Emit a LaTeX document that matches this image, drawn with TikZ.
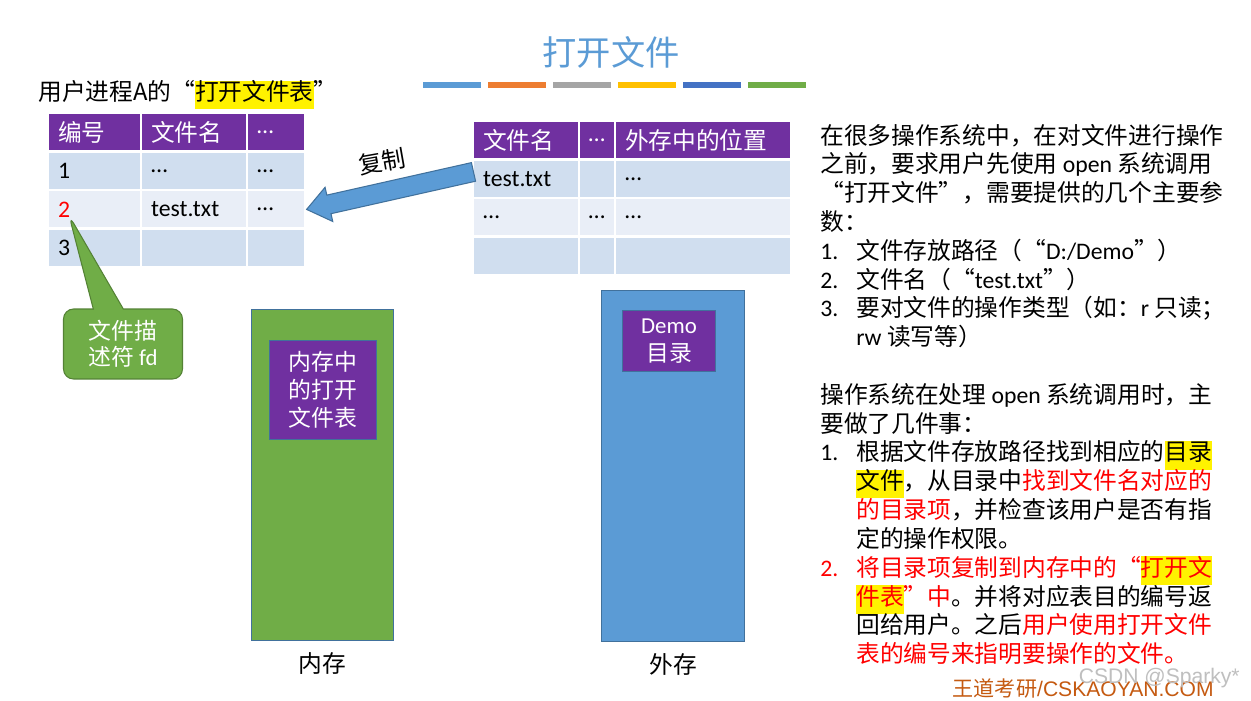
\documentclass[tikz,border=0pt]{standalone}
\usepackage{fontspec}
\setmainfont{Noto Sans CJK SC}
\newfontfamily\lat{Carlito}
\newfontfamily\arl{Liberation Sans}
\usetikzlibrary{positioning,calc,shapes.arrows,shapes.callouts}

\definecolor{titleblue}{RGB}{91,155,213}
\definecolor{barorange}{RGB}{237,125,49}
\definecolor{bargray}{RGB}{165,165,165}
\definecolor{bargold}{RGB}{255,192,0}
\definecolor{bardeep}{RGB}{68,114,196}
\definecolor{bargreen}{RGB}{112,173,71}
\definecolor{hdpurple}{RGB}{112,48,160}
\definecolor{rowdark}{RGB}{208,222,239}
\definecolor{rowlight}{RGB}{233,238,247}
\definecolor{edgeblue}{RGB}{65,113,156}
\definecolor{fdedge}{RGB}{84,130,53}
\definecolor{brandred}{RGB}{197,90,17}

\newcommand{\no}[1]{\makebox[0.72cm][l]{\lat #1}}
\newcommand{\hlt}[1]{{\setlength{\fboxsep}{0pt}\colorbox{yellow}{\strut #1}}}
\newcommand{\rtxt}[1]{\textcolor{red}{#1}}

\begin{document}
\begin{tikzpicture}[x=0.02cm, y=-0.02cm,
  every node/.style={inner sep=0pt, font=\fontsize{13.5pt}{16.4pt}\selectfont},
  cell/.style={draw=white, line width=1.2pt, anchor=north west, inner xsep=0.2cm, minimum height=0.77cm, align=left},
  hd/.style={cell, fill=hdpurple, text=white},
  rowA/.style={cell, fill=rowdark},
  rowB/.style={cell, fill=rowlight},
  block/.style={draw=edgeblue, line width=0.6pt, anchor=north west},
  tag/.style={block, fill=hdpurple, text=white, align=center, font=\fontsize{13pt}{15.8pt}\selectfont}]
	\path[fill=white, use as bounding box] (0,0) rectangle (1251,700);

	% title and colour bars
	\node[text=titleblue, font=\fontsize{19.5pt}{22pt}\selectfont] (title) at (611,52) {打开文件};
	\foreach \cl [count=\i] in {titleblue, barorange, bargray, bargold, bardeep, bargreen}
		\fill[\cl] (358+65*\i,82) rectangle +(58,6);

	% open-file table of process A
	\node[anchor=west] (ownlbl) at (38,95) {用户进程A的“\hlt{打开文件表}”};
	\foreach \cx/\cw/\ch/\ca/\cb/\cc [count=\i] in {47/93/编号/1/{\color{red}2}/3, 140/106/文件名/{…}/test.txt/{}, 246/58/{\lat …}/{…}/{…}/{}} {
		\pgfmathsetmacro\tw{\cw*0.02-0.4}
		\node[hd, text width=\tw cm] (L0\i) at (\cx,112) {\ch};
		\node[rowA, text width=\tw cm] (L1\i) at (\cx,150.5) {\lat\ca};
		\node[rowB, text width=\tw cm] (L2\i) at (\cx,189) {\lat\cb};
		\node[rowA, text width=\tw cm] (L3\i) at (\cx,227.5) {\lat\cc};
	}

	% directory table
	\foreach \cx/\cw/\ch/\ca/\cb/\cc [count=\i] in {472/105.5/文件名/test.txt/{…}/{}, 577.5/36.5/{\lat …}/{}/{…}/{}, 614/176/外存中的位置/{…}/{…}/{}} {
		\pgfmathsetmacro\tw{\cw*0.02-0.4}
		\node[hd, text width=\tw cm] (R0\i) at (\cx,120) {\ch};
		\node[rowA, text width=\tw cm] (R1\i) at (\cx,158.5) {\lat\ca};
		\node[rowB, text width=\tw cm] (R2\i) at (\cx,197) {\lat\cb};
		\node[rowA, text width=\tw cm] (R3\i) at (\cx,235.5) {\lat\cc};
	}

	% copy arrow
	\coordinate (cptail) at ($(R11.west)+(2,-7)$);
	\coordinate (cphead) at ($(L23.east)+(1,0)$);
	\path let \p1=(cptail), \p2=(cphead), \n1={atan2(\y2-\y1,\x2-\x1)}, \n2={veclen(\x2-\x1,\y2-\y1)} in
		node[single arrow, draw=edgeblue, fill=titleblue, line width=0.6pt, minimum height=\n2, inner xsep=0pt, inner ysep=0.18cm,
			single arrow head extend=0.16cm, single arrow tip angle=75, rotate=\n1, anchor=tail] (copy) at (cptail) {};
	\node[rotate=10] (cplbl) at (382,162) {复制};

	% file descriptor callout
	\coordinate (fdtip) at ($(L21.west)+(22,6)$);
	\node[rectangle callout, rounded corners=0.2cm, fill=bargreen, draw=fdedge, line width=0.6pt, text=white,
		minimum width=2.38cm, minimum height=1.4cm, align=center, callout absolute pointer={(fdtip)}, callout pointer width=0.6cm,
		font=\fontsize{13pt}{14.7pt}\selectfont] (fd) at (123,344) {文件描\\述符 {\lat fd}};

	% memory and disk
	\node[block, fill=bargreen, minimum width=2.84cm, minimum height=6.62cm] (mem) at (251,309) {};
	\node[tag, minimum width=2.14cm, minimum height=1.98cm] (memtab) at ($(mem.north west)+(18,31)$) {内存中\\的打开\\文件表};
	\node[below=0.22cm of mem] (memlbl) {内存};
	\node[block, fill=titleblue, minimum width=2.86cm, minimum height=7.02cm] (disk) at (601,290) {};
	\node[tag, minimum width=1.86cm, minimum height=1.22cm] (dir) at ($(disk.north west)+(21,20)$) {{\lat Demo}\\目录};
	\node[below=0.22cm of disk] (disklbl) {外存};

	% explanation
	\node[anchor=north west, align=left] (desc) at (820,123.5) {\strut 在很多操作系统中，在对文件进行操作\\
		之前，要求用户先使用 {\lat open} 系统调用\\
		“打开文件”，需要提供的几个主要参\\
		数：\\
		\no{1.}文件存放路径（“{\lat D:/Demo}”）\\
		\no{2.}文件名（“{\lat test.txt}”）\\
		\no{3.}要对文件的操作类型（如：{\lat r} 只读；\\
		\no{}{\lat rw} 读写等）\\
		\mbox{}\\
		操作系统在处理 {\lat open} 系统调用时，主\\
		要做了几件事：\\
		\no{1.}根据文件存放路径找到相应的\hlt{目录}\\
		\no{}\hlt{文件}，从目录中\rtxt{找到文件名对应的}\\
		\no{}\rtxt{的目录项}，并检查该用户是否有指\\
		\no{}定的操作权限。\\
		\rtxt{\no{2.}将目录项复制到内存中的“\hlt{打开文}}\\
		\no{}\rtxt{\hlt{件表}”中}。并将对应表目的编号返\\
		\no{}回给用户。之后\rtxt{用户使用打开文件}\\
		\no{}\rtxt{表的编号来指明要操作的文件。}};

	% footer marks
	\node[anchor=east, text=brandred, font=\fontsize{12pt}{14pt}\selectfont] (brand) at (1214,688) {王道考研{\arl /CSKAOYAN.COM}};
	\node[anchor=east, text=black!25, font=\arl\fontsize{12pt}{14pt}\selectfont] (mark) at (1240,678) {CSDN @Sparky*};
\end{tikzpicture}
\end{document}
